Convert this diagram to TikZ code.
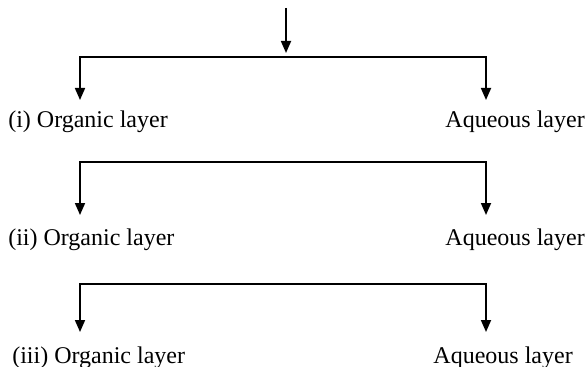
\documentclass[tikz,border=0pt]{standalone}
\usepackage{fontspec}
\setmainfont{Liberation Serif}
\usetikzlibrary{arrows.meta}

\begin{document}
\begin{tikzpicture}[x=0.75pt, y=-0.75pt, font=\fontsize{18}{21}\selectfont,
    flow/.style={line width=1.3pt, -{Triangle[length=9pt, width=7.5pt]}},
    bar/.style={line width=1.3pt},
    layer/.style={inner sep=0pt}]
    \useasboundingbox (0,0) rectangle (588,367);

    % feed coming in from above
    \coordinate (feed) at (286,8);
    \coordinate (j1) at (286,57);
    \draw[flow, shorten >=3pt] (feed) -- (j1);

    % first extraction
    \coordinate (l1) at (80,100);
    \coordinate (r1) at (486,100);
    \node[layer, anchor=west] (org1) at (8,122) {(i) Organic layer};
    \node[layer, anchor=east] (aq1) at (585,122) {Aqueous layer};
    \draw[flow] (j1) -| (l1);
    \draw[flow] (j1) -| (r1);

    % second extraction
    \coordinate (j2) at (286,162);
    \coordinate (l2) at (80,215);
    \coordinate (r2) at (486,215);
    \node[layer, anchor=west] (org2) at (8,240) {(ii) Organic layer};
    \node[layer, anchor=east] (aq2) at (585,240) {Aqueous layer};
    \draw[flow] (j2) -| (l2);
    \draw[flow] (j2) -| (r2);

    % third extraction
    \coordinate (j3) at (286,284);
    \coordinate (l3) at (80,332);
    \coordinate (r3) at (486,332);
    \node[layer, anchor=west] (org3) at (12,358) {(iii) Organic layer};
    \node[layer, anchor=east] (aq3) at (573,358) {Aqueous layer};
    \draw[flow] (j3) -| (l3);
    \draw[flow] (j3) -| (r3);
\end{tikzpicture}
\end{document}
